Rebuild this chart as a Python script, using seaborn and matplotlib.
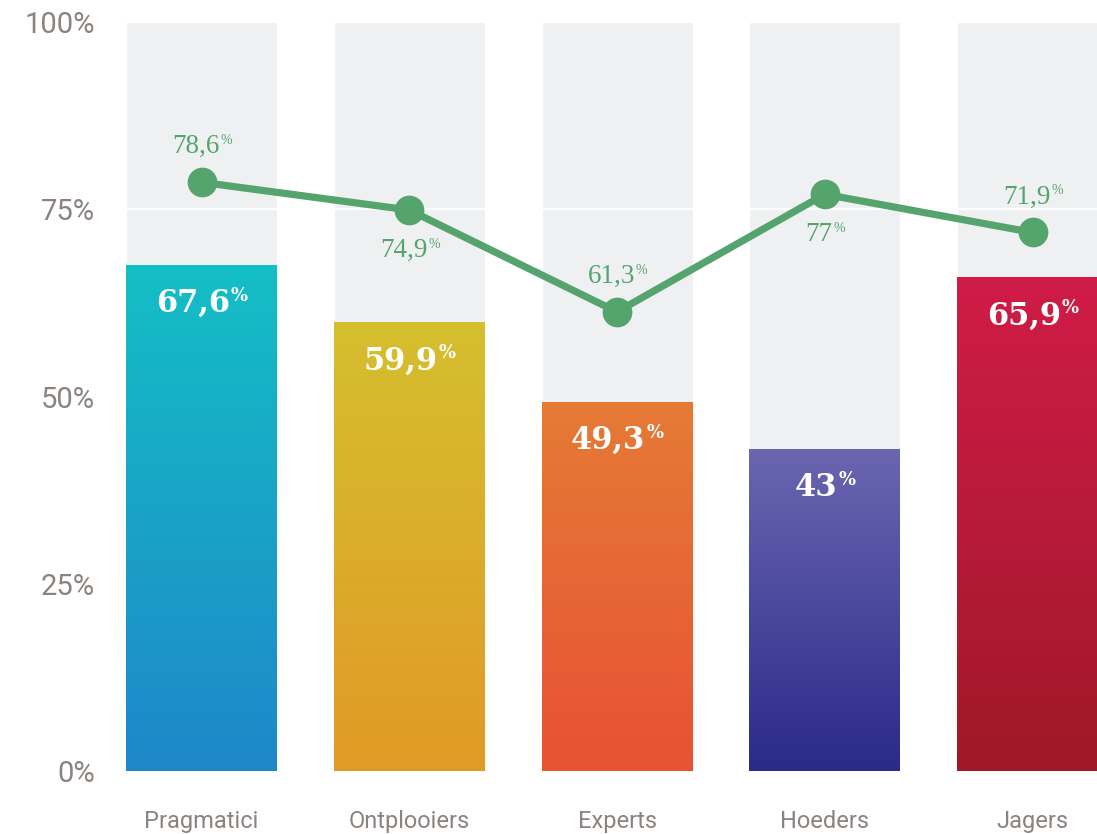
import numpy as np
import matplotlib
matplotlib.use("Agg")
import matplotlib.pyplot as plt
from matplotlib.colors import LinearSegmentedColormap
import seaborn as sns

# Segments, bar shares and the line series
categories = ["Pragmatici", "Ontplooiers", "Experts", "Hoeders", "Jagers"]
bar_values = [67.6, 59.9, 49.3, 43, 65.9]
line_values = [78.6, 74.9, 61.3, 77, 71.9]
line_label_above = [True, False, True, False, True]
y_ticks = [0, 25, 50, 75, 100]
y_tick_labels = ["0%", "25%", "50%", "75%", "100%"]
track_value = 100

# Gradient end colours per bar (top, bottom)
grad_top = ["#14BFC5", "#D5BF2F", "#E57B36", "#6A66B0", "#D01C48"]
grad_bottom = ["#1E87C9", "#E19A25", "#E85134", "#2A2A89", "#9F1828"]
track_color = "#EFF0F2"
line_color = "#55A46E"
tick_color = "#8B8380"

sns.set_theme(style="white")
plt.rcParams["font.family"] = ["Roboto", "DejaVu Sans"]

W, H = 1097, 834
fig = plt.figure(figsize=(W / 100, H / 100), dpi=100)

# Axes geometry in pixels
left_px, right_px = 110, W
bottom_px, top_px = 771, 10
px_per_unit = 7.49
center0_px, step_px = 201.5, 207.75

ax = fig.add_axes([left_px / W, (H - bottom_px) / H,
                   (right_px - left_px) / W, (bottom_px - top_px) / H])

bar_width = 151 / step_px

# Grey tracks behind each bar
sns.barplot(x=categories, y=[track_value] * len(categories), color=track_color,
            saturation=1, width=bar_width, ax=ax, zorder=1)
n_track = len(ax.patches)

ax.axhline(75, color="white", lw=1.6, zorder=1.5)

# Value bars, filled with vertical gradients
sns.barplot(x=categories, y=bar_values, hue=categories, palette=grad_top,
            saturation=1, width=bar_width, legend=False, ax=ax, zorder=2)
value_patches = ax.patches[n_track:]
for patch, c_top, c_bot in zip(value_patches, grad_top, grad_bottom):
    x0, y0 = patch.get_x(), patch.get_y()
    w, h = patch.get_width(), patch.get_height()
    cmap = LinearSegmentedColormap.from_list("g", [c_bot, c_top])
    grad = np.linspace(0, 1, 256).reshape(-1, 1)
    im = ax.imshow(grad, cmap=cmap, origin="lower", aspect="auto",
                   extent=[x0, x0 + w, y0, y0 + h], zorder=2.1,
                   interpolation="bicubic")
    im.set_clip_path(patch)
    patch.set_facecolor("none")
    patch.set_edgecolor("none")

# Line series
sns.pointplot(x=categories, y=line_values, color=line_color, markers="o",
              markersize=17.5, linewidth=5.2, errorbar=None, ax=ax, zorder=3)
for coll in ax.collections:
    coll.set_zorder(3)
for ln in ax.lines:
    ln.set_zorder(3)

ax.set_xlim((left_px - center0_px) / step_px, (right_px - center0_px) / step_px)
ax.set_ylim(0, (bottom_px - top_px) / px_per_unit)

renderer = fig.canvas.get_renderer()


def pct_label(x, y, value, dy_px, size, pct_size, raise_px, color, family, weight):
    s = f"{value:g}".replace(".", ",")
    kw = dict(textcoords="offset pixels", ha="left", va="baseline", color=color,
              family=family, fontweight=weight, zorder=5, annotation_clip=False)
    t1 = ax.annotate(s, (x, y), xytext=(0, dy_px), fontsize=size, **kw)
    t2 = ax.annotate("%", (x, y), xytext=(0, dy_px + raise_px), fontsize=pct_size, **kw)
    w1 = t1.get_window_extent(renderer).width
    w2 = t2.get_window_extent(renderer).width
    total = w1 + w2
    t1.xyann = (-total / 2, dy_px)
    t2.xyann = (-total / 2 + w1 + 1, dy_px + raise_px)


for i, v in enumerate(bar_values):
    pct_label(i, v, v, -47, 22, 13, 11, "white", "DejaVu Serif", "bold")

for i, (v, above) in enumerate(zip(line_values, line_label_above)):
    dy = 29 if above else -47
    pct_label(i, v, v, dy, 19.5, 10, 9, line_color, "Liberation Serif", "normal")

ax.set_yticks(y_ticks)
ax.set_yticklabels(y_tick_labels)
ax.set_xticks(range(len(categories)))
ax.set_xticklabels(categories)
ax.tick_params(axis="y", length=0, pad=11, labelsize=21, labelcolor=tick_color)
ax.tick_params(axis="x", length=0, pad=28, labelsize=17, labelcolor=tick_color)
ax.set_xlabel("")
ax.set_ylabel("")
for sp in ax.spines.values():
    sp.set_visible(False)
ax.grid(False)

fig.savefig("out.png", dpi=100)
